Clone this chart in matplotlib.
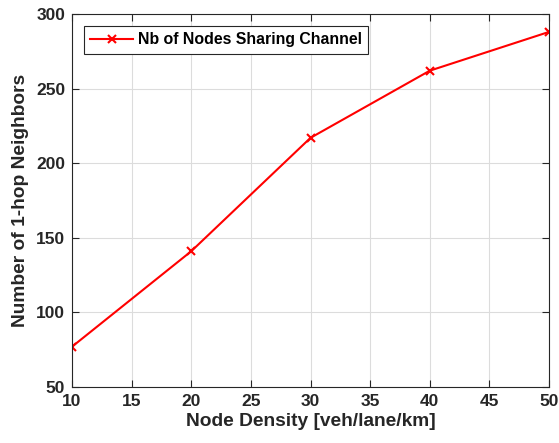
import matplotlib
matplotlib.use("Agg")
import matplotlib.pyplot as plt

densidade = [10, 20, 30, 40, 50]
vizinhos = [77, 141, 217, 262, 288]
rotulo = "Nb of Nodes Sharing Channel"

plt.rcParams['font.family'] = ['Liberation Sans', 'DejaVu Sans']
plt.rcParams['font.weight'] = 'bold'

fig = plt.figure(figsize=(5.59, 4.43), dpi=100)
ax = fig.add_axes([72/559, 1-387/443, (549-72)/559, (387-14)/443])

ax.plot(densidade, vizinhos, color='red', linewidth=1.5, marker='x',
        markersize=6, markeredgewidth=1.5, label=rotulo)

ax.set_xlim(10, 50)
ax.set_ylim(50, 300)
ax.set_xticks(range(10, 51, 5))
ax.set_yticks(range(50, 301, 50))
ax.grid(True, color='#dcdcdc', linewidth=0.8)
ax.set_axisbelow(True)
ax.tick_params(direction='in', top=True, right=True, length=5, width=0.8,
               labelsize=12.5, colors='#262626', pad=5)
for s in ax.spines.values():
    s.set_color('#262626')
    s.set_linewidth(0.8)

ax.set_xlabel("Node Density [veh/lane/km]", fontsize=13.8, fontweight='bold', color='#262626', labelpad=3)
ax.set_ylabel("Number of 1-hop Neighbors", fontsize=13.8, fontweight='bold', color='#262626', labelpad=5)

leg = ax.legend(loc='upper left', fontsize=11.4, fancybox=False, framealpha=1,
                edgecolor='#262626', borderpad=0.4, handlelength=2.7,
                handletextpad=0.3, borderaxespad=0,
                bbox_to_anchor=(0.025, 0.968))
leg.get_frame().set_linewidth(0.8)

plt.savefig("out.png", dpi=100)
plt.close('all')
